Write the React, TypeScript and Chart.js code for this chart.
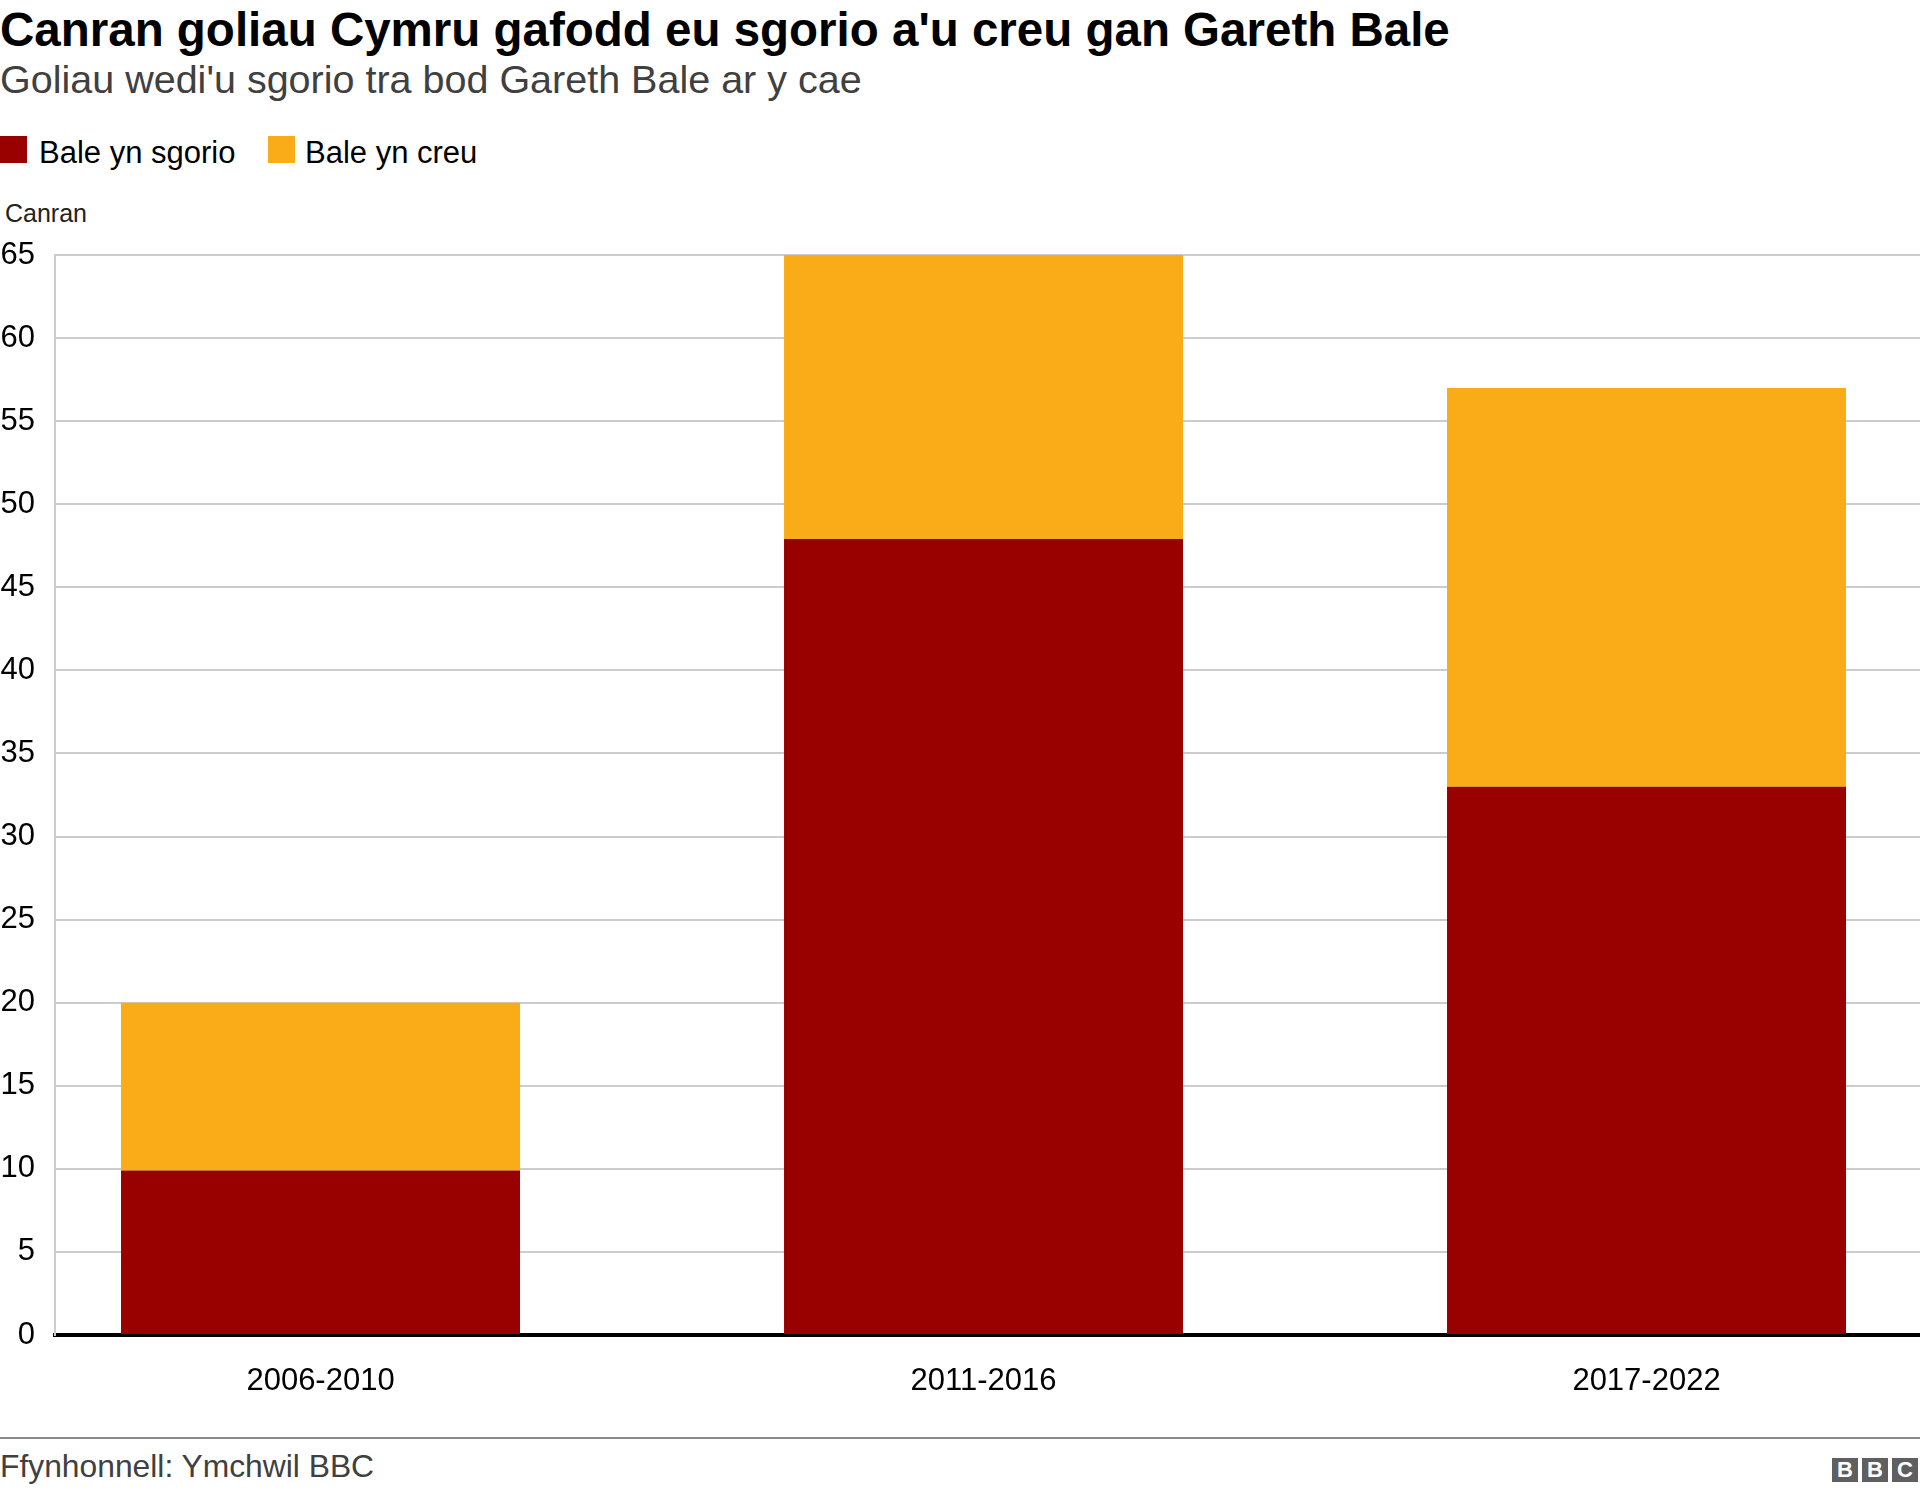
import React, { useEffect, useRef } from "react";
import { Chart, registerables } from "chart.js";

Chart.register(...registerables);

const categories = ["2006-2010", "2011-2016", "2017-2022"];
const scoredValues = [9.9, 47.9, 33.0];
const createdValues = [10.1, 17.1, 24.0];
const seriesLabels = ["Bale yn sgorio", "Bale yn creu"];
const seriesColors = ["#990000", "#FAAB18"];
const yMin = 0;
const yMax = 65;
const yStep = 5;

const FONT = '"Liberation Sans", Arial, Helvetica, sans-serif';

export default function App() {
  const ref = useRef<HTMLCanvasElement | null>(null);

  useEffect(() => {
    if (!ref.current) return;
    const chart = new Chart(ref.current, {
      type: "bar",
      data: {
        datasets: [
          {
            label: seriesLabels[0],
            data: categories.map((_, i) => ({ x: i, y: scoredValues[i] })),
            backgroundColor: seriesColors[0],
            borderWidth: 0,
          },
          {
            label: seriesLabels[1],
            data: categories.map((_, i) => ({ x: i, y: createdValues[i] })),
            backgroundColor: seriesColors[1],
            borderWidth: 0,
          },
        ],
      },
      options: {
        responsive: false,
        animation: false,
        devicePixelRatio: 1,
        layout: { padding: { top: 25, left: 0, right: 0, bottom: 0 } },
        datasets: { bar: { categoryPercentage: 1, barPercentage: 0.6018 } },
        plugins: {
          legend: { display: false },
          tooltip: { enabled: false },
          title: { display: false },
        },
        scales: {
          x: {
            type: "linear",
            stacked: true,
            offset: false,
            min: -0.4005,
            max: 2.4125,
            z: 1,
            grid: { display: false, drawTicks: false },
            border: { display: true, color: "#000000", width: 4 },
            afterBuildTicks: (s: any) => {
              s.ticks = categories.map((_, i) => ({ value: i }));
            },
            afterFit: (s: any) => {
              s.height = 95;
              s.paddingLeft = 0;
              s.paddingRight = 0;
            },
            ticks: {
              callback: (v: any) => categories[v as number] ?? "",
              font: { family: FONT, size: 31 },
              color: "#000000",
              padding: 28,
              maxRotation: 0,
              autoSkip: false,
            },
          },
          y: {
            type: "linear",
            stacked: true,
            min: yMin,
            max: yMax,
            grid: { color: "#cccccc", lineWidth: 2, drawTicks: false },
            border: { display: true, color: "#cccccc", width: 2 },
            afterFit: (s: any) => {
              s.width = 55;
              s.paddingTop = 0;
              s.paddingBottom = 0;
            },
            ticks: {
              stepSize: yStep,
              font: { family: FONT, size: 31 },
              color: "#000000",
              padding: 20,
            },
          },
        },
      },
    } as any);
    return () => chart.destroy();
  }, []);

  const abs = (style: React.CSSProperties): React.CSSProperties => ({
    position: "absolute",
    whiteSpace: "nowrap",
    lineHeight: 1,
    margin: 0,
    ...style,
  });

  return (
    <div
      style={{
        position: "absolute",
        left: 0,
        top: 0,
        width: 1920,
        height: 1493,
        background: "#ffffff",
        fontFamily: FONT,
        overflow: "hidden",
      }}
    >
      <div style={abs({ left: 0, top: 6, fontSize: 47.5, fontWeight: "bold", color: "#000" })}>
        Canran goliau Cymru gafodd eu sgorio a'u creu gan Gareth Bale
      </div>
      <div style={abs({ left: 0, top: 59.5, fontSize: 39.5, color: "#404040" })}>
        Goliau wedi'u sgorio tra bod Gareth Bale ar y cae
      </div>

      <div style={abs({ left: 0, top: 136, width: 27, height: 27, background: seriesColors[0] })} />
      <div style={abs({ left: 39, top: 136.5, fontSize: 31, color: "#000" })}>{seriesLabels[0]}</div>
      <div style={abs({ left: 268, top: 136, width: 27, height: 27, background: seriesColors[1] })} />
      <div style={abs({ left: 305, top: 136.5, fontSize: 31, color: "#000" })}>{seriesLabels[1]}</div>

      <div style={abs({ left: 5, top: 201, fontSize: 25, color: "#222" })}>Canran</div>

      <canvas
        ref={ref}
        width={1920}
        height={1200}
        style={{ position: "absolute", left: 0, top: 230, width: 1920, height: 1200 }}
      />

      <div style={abs({ left: 0, top: 1437, width: 1920, height: 2, background: "#8a8a8a" })} />
      <div style={abs({ left: 0, top: 1450.5, fontSize: 31.8, color: "#404040" })}>
        Ffynhonnell: Ymchwil BBC
      </div>

      {["B", "B", "C"].map((ch, i) => (
        <div
          key={i}
          style={abs({
            left: 1832 + i * 30,
            top: 1458,
            width: 26,
            height: 24,
            background: "#5f5f5f",
            color: "#fff",
            fontSize: 22,
            fontWeight: "bold",
            textAlign: "center",
            lineHeight: "24px",
          })}
        >
          {ch}
        </div>
      ))}
    </div>
  );
}
